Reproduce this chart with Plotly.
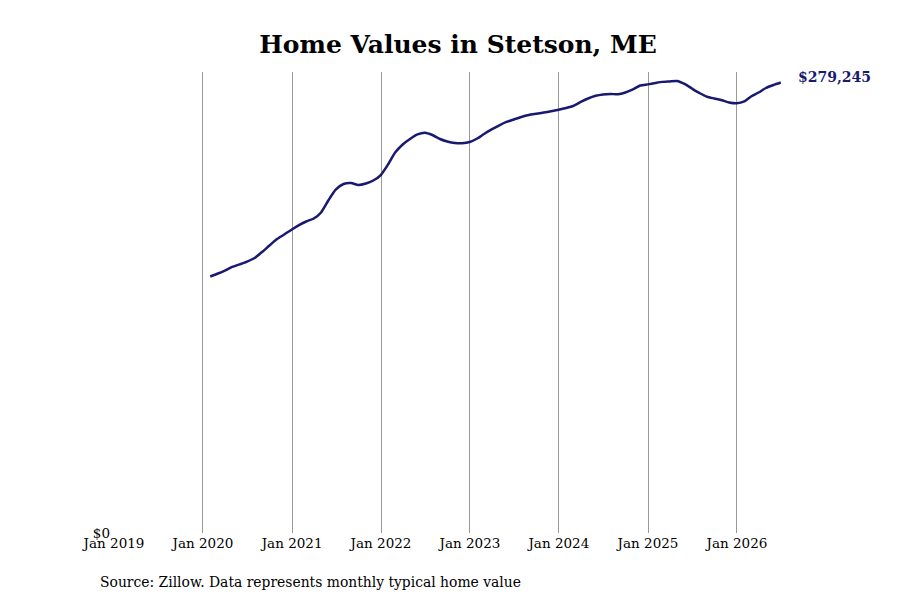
import pandas as pd
import plotly.graph_objects as go

# --- data (monthly typical home value, Zillow month-end dates) ---
START = "2020-01-31"
VALUES = [
    159000, 160700, 162700, 164950, 166550, 168200, 170450, 174200, 178200, 182250, 185050, 188150,
    190950, 193100, 194950, 198700, 206400, 212950, 216350, 216950, 215700, 216650, 218500, 221900,
    228750, 235850, 240850, 244250, 247050, 248100, 246700, 244250, 242700, 241750, 241600, 242400,
    244550, 247350, 250150, 252600, 254800, 256350, 257900, 259100, 259850, 260600, 261400, 262350,
    263450, 264700, 267200, 269350, 271000, 271850, 272150, 271950, 273050, 274950, 277400, 278100,
    278950, 279650, 279950, 280200, 278350, 275550, 272750, 270450, 269350, 268250, 266850, 266350,
    267500, 270600, 273050, 275850, 277700, 279245,
]
TICK_YEARS = [2019, 2020, 2021, 2022, 2023, 2024, 2025, 2026]
GRID_YEARS = TICK_YEARS[1:]

TITLE = "Home Values in Stetson, ME"
SOURCE = "Source: Zillow. Data represents monthly typical home value"

LINE_COLOR = "#191970"
FONT = "DejaVu Serif"

dates = pd.date_range(START, periods=len(VALUES), freq="ME")
tickvals = [f"{y}-01-01" for y in TICK_YEARS]
ticktext = [f"Jan {y}" for y in TICK_YEARS]
gridvals = [f"{y}-01-01" for y in GRID_YEARS]

fig = go.Figure()
fig.add_trace(go.Scatter(
    x=dates, y=VALUES, mode="lines",
    line=dict(color=LINE_COLOR, width=2.5, shape="spline", smoothing=0.6),
    hoverinfo="skip", showlegend=False,
))

# last value label
fig.add_annotation(
    x=dates[-1], y=VALUES[-1], text=f"<b>${VALUES[-1]:,.0f}</b>",
    showarrow=False, xanchor="left", yanchor="middle", xshift=15, yshift=6,
    font=dict(family=FONT, size=14, color=LINE_COLOR),
)
# source note
fig.add_annotation(
    xref="paper", yref="paper", x=-0.0235, y=-0.106, text=SOURCE,
    showarrow=False, xanchor="left", yanchor="middle",
    font=dict(family=FONT, size=13.9, color="black"),
)

fig.update_layout(
    width=900, height=600,
    margin=dict(l=106, r=116, t=64, b=75),
    paper_bgcolor="white", plot_bgcolor="white",
    font=dict(family=FONT, size=13.5, color="black"),
    title=dict(text=f"<b>{TITLE}</b>", x=0.5, xanchor="center", y=0.94, yanchor="middle",
               font=dict(family=FONT, size=25, color="black")),
    xaxis=dict(
        range=["2019-01-01", "2026-08-15"],
        tickvals=tickvals, ticktext=ticktext, showgrid=False, zeroline=False,
        showline=False, ticks="",
        minor=dict(tickvals=gridvals, showgrid=True, gridcolor="#999999", gridwidth=1, ticks=""),
    ),
    yaxis=dict(
        range=[0, 285770], tickvals=[0], ticktext=["$0"], showgrid=False,
        zeroline=False, showline=False, ticks="", ticklabelstandoff=3,
    ),
)

fig.write_html("out.html")
